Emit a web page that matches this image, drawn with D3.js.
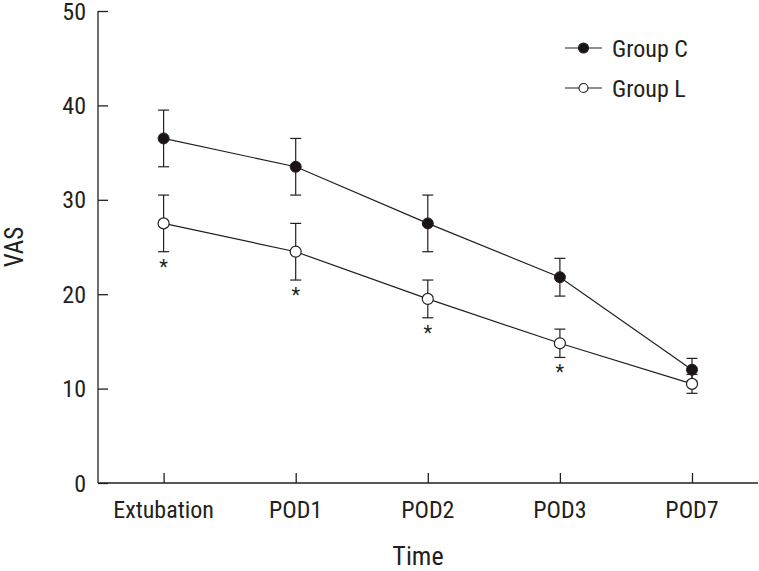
<!DOCTYPE html>
<html><head><meta charset="utf-8">
<script src="https://cdn.jsdelivr.net/npm/d3@7"></script>
<style>
html,body{margin:0;padding:0;background:#fff;}
text{font-family:"Liberation Sans Narrow","Arial Narrow","Roboto Condensed",sans-serif;fill:#231f20;}
</style></head>
<body><svg id="c" width="759" height="571"></svg>
<script>
const categories = ["Extubation","POD1","POD2","POD3","POD7"];
const groupC = [36.5, 33.5, 27.5, 21.8, 12.0];
const groupCErr = [3.0, 3.0, 3.0, 2.0, 1.2];
const groupL = [27.5, 24.5, 19.5, 14.8, 10.5];
const groupLErr = [3.0, 3.0, 2.0, 1.5, 1.0];
const significant = [true, true, true, true, false];
const yTicks = [0,10,20,30,40,50];

const svg = d3.select("#c");
const ink = "#231f20";
const x = d3.scalePoint().domain(categories).range([163.6, 692]);
const y = d3.scaleLinear().domain([0,50]).range([483, 11]);

// axes
const yAxis = svg.append("g").attr("transform","translate(98,0)")
  .call(d3.axisRight(y).tickValues(yTicks).tickSize(10).tickFormat(""));
yAxis.select(".domain").attr("d","M0,"+y(50)+"V"+y(0));
yAxis.selectAll("line,path").attr("stroke",ink).attr("stroke-width",1.3);
svg.append("g").selectAll("text").data(yTicks).join("text")
  .attr("x",86).attr("y",d=>y(d)+8.5).attr("text-anchor","end")
  .attr("font-size",24).text(d=>d);

const xAxis = svg.append("g").attr("transform","translate(0,"+y(0)+")")
  .call(d3.axisTop(x).tickSize(10).tickFormat(""));
xAxis.select(".domain").attr("d","M98,0H758");
xAxis.selectAll("line,path").attr("stroke",ink).attr("stroke-width",1.3);
svg.append("g").selectAll("text").data(categories).join("text")
  .attr("x",d=>x(d)).attr("y",518).attr("text-anchor","middle")
  .attr("font-size",24).text(d=>d);

svg.append("text").attr("x",418).attr("y",565).attr("text-anchor","middle")
  .attr("font-size",26).text("Time");
svg.append("text").attr("transform","translate(23,247) rotate(-90)")
  .attr("text-anchor","middle").attr("font-size",25).text("VAS");

function drawSeries(vals, errs){
  const g = svg.append("g");
  const line = d3.line().x((d,i)=>x(categories[i])).y(d=>y(d));
  g.append("path").datum(vals).attr("d",line).attr("fill","none")
    .attr("stroke",ink).attr("stroke-width",1.2);
  const eb = g.selectAll(".eb").data(vals).join("g");
  eb.append("line").attr("x1",(d,i)=>x(categories[i])).attr("x2",(d,i)=>x(categories[i]))
    .attr("y1",(d,i)=>y(d+errs[i])).attr("y2",(d,i)=>y(d-errs[i]))
    .attr("stroke",ink).attr("stroke-width",1.2);
  [1,-1].forEach(s=>{
    eb.append("line").attr("x1",(d,i)=>x(categories[i])-5.5).attr("x2",(d,i)=>x(categories[i])+5.5)
      .attr("y1",(d,i)=>y(d+s*errs[i])).attr("y2",(d,i)=>y(d+s*errs[i]))
      .attr("stroke",ink).attr("stroke-width",1.2);
  });
  return g;
}
const gC = drawSeries(groupC, groupCErr);
const gL = drawSeries(groupL, groupLErr);
gC.selectAll(".pt").data(groupC).join("circle")
  .attr("cx",(d,i)=>x(categories[i])).attr("cy",d=>y(d)).attr("r",5.5)
  .attr("fill","#1a1414").attr("stroke",ink).attr("stroke-width",1);
gL.selectAll(".pt").data(groupL).join("circle")
  .attr("cx",(d,i)=>x(categories[i])).attr("cy",d=>y(d)).attr("r",5.5)
  .attr("fill","#fff").attr("stroke",ink).attr("stroke-width",1.2);

// significance asterisks
svg.append("g").selectAll("text").data(categories.filter((c,i)=>significant[i])).join("text")
  .attr("x",d=>x(d)).attr("y",d=>{const i=categories.indexOf(d);return y(groupL[i]-groupLErr[i])+22;})
  .attr("text-anchor","middle").attr("font-size",20).attr("font-family","DejaVu Sans").text("*");

// legend
const legend = [{name:"Group C",filled:true},{name:"Group L",filled:false}];
const lg = svg.append("g").selectAll("g").data(legend).join("g")
  .attr("transform",(d,i)=>"translate(0,"+(48+i*40)+")");
lg.append("line").attr("x1",565).attr("x2",602).attr("y1",0).attr("y2",0)
  .attr("stroke",ink).attr("stroke-width",1.2);
lg.append("circle").attr("cx",583.5).attr("cy",0).attr("r",d=>d.filled?5:4.5)
  .attr("fill",d=>d.filled?"#1a1414":"#fff").attr("stroke",ink).attr("stroke-width",1.1);
lg.append("text").attr("x",612).attr("y",8.5).attr("font-size",24).text(d=>d.name);
</script></body></html>
